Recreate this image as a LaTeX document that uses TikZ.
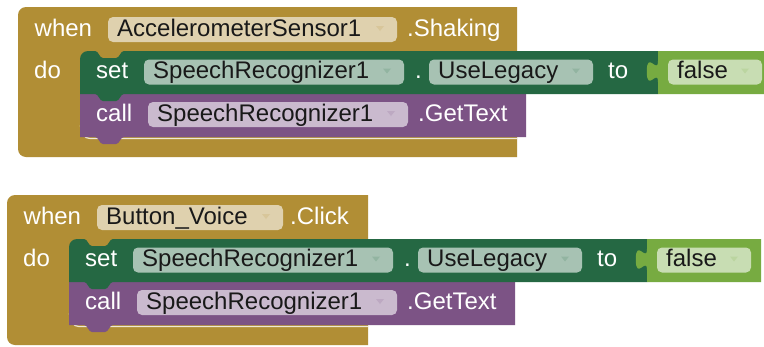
\documentclass[tikz,border=0pt]{standalone}
\usepackage{fontspec}
\setmainfont{Liberation Sans}
\definecolor{evgold}{HTML}{B18E35}
\definecolor{setgreen}{HTML}{256843}
\definecolor{callpurple}{HTML}{7C5385}
\definecolor{boolgreen}{HTML}{77AB41}
\tikzset{
  lbl/.style={anchor=base west, inner sep=0pt, text=white, font=\fontsize{24}{28}\selectfont},
  ftext/.style={anchor=base west, inner sep=0pt, text=black!90, font=\fontsize{24}{28}\selectfont},
}
\newcommand{\fld}[6]{%
  \fill[white, fill opacity=0.6, rounded corners=5pt] (#2,#4-19) rectangle (#3,#4+6);
  \node[ftext] (#1) at (#2+9,#4) {#5};
  \fill[#6!50!white] (#3-21,#4-10) -- (#3-13,#4-10) -- (#3-17,#4-5) -- cycle;
}
% #1 prefix, #2 header right, #3 header field end, #4 event text x, #5 component, #6 event
\newcommand{\evblock}[6]{%
  % event (gold) block
  \fill[evgold] (#2,0) -- (8,0) .. controls (3.6,0) and (0,3.6) .. (0,8) -- (0,142)
     .. controls (0,146.4) and (3.6,150) .. (8,150) -- (#2,150) -- cycle;
  \draw[white, line width=1.2pt, opacity=.8] (62.5,118) .. controls (62.5,126) and (66,131.5) .. (72,131.5) -- (#2,131.5);
  % call (purple) block
  \fill[callpurple] (62,87) -- (508,87) -- (508,130) -- (106,130)
     .. controls (102,130) and (102,137) .. (98,137) -- (85,137)
     .. controls (81,137) and (81,130) .. (77,130) -- (62,130) -- cycle;
  % set (dark green) block
  \fill[setgreen] (62,52) .. controls (62,47.6) and (65.6,44) .. (70,44) -- (77,44)
     .. controls (81,44) and (81,51) .. (85,51) -- (98,51)
     .. controls (102,51) and (102,44) .. (106,44) -- (640,44) -- (640,87) -- (106,87)
     .. controls (102,87) and (102,94) .. (98,94) -- (85,94)
     .. controls (81,94) and (81,87) .. (77,87) -- (62,87) -- cycle;
  % false (logic) block with output tab
  \fill[boolgreen] (754,44) -- (640,44) -- (640,54)
     .. controls (640,68) and (628.8,42.8) .. (628.8,64.5)
     .. controls (628.8,86.2) and (640,61) .. (640,75)
     -- (640,87) -- (754,87) -- cycle;
  % texts
  \node[lbl] (#1-when) at (16.5,29) {when};
  \fld{#1-comp}{90}{#3}{29}{#5}{evgold}
  \node[lbl] (#1-event) at (#4,29) {#6};
  \node[lbl] (#1-do) at (16,71.5) {do};
  \node[lbl] (#1-set) at (78,71.5) {set};
  \fld{#1-setcomp}{126}{386}{71.5}{SpeechRecognizer1}{setgreen}
  \node[lbl] (#1-dot) at (397,71.5) {.};
  \fld{#1-prop}{411}{575}{71.5}{UseLegacy}{setgreen}
  \node[lbl] (#1-to) at (590,71.5) {to};
  \fld{#1-false}{650}{744}{71.5}{false}{boolgreen}
  \node[lbl] (#1-call) at (78,114) {call};
  \fld{#1-callcomp}{130}{390}{114}{SpeechRecognizer1}{callpurple}
  \node[lbl] (#1-method) at (400,114) {.GetText};
}
\begin{document}
\begin{tikzpicture}[x=1pt, y=-1pt]
  \useasboundingbox (0,0) rectangle (764,346);
  \clip (0,0) rectangle (764,346);
  \fill[white] (0,0) rectangle (764,346);
  \begin{scope}[shift={(18,7)}]
    \evblock{a}{499}{379}{389}{AccelerometerSensor1}{.Shaking}
  \end{scope}
  \begin{scope}[shift={(7,195)}]
    \evblock{b}{361}{276}{283}{Button\_Voice}{.Click}
  \end{scope}
\end{tikzpicture}
\end{document}
